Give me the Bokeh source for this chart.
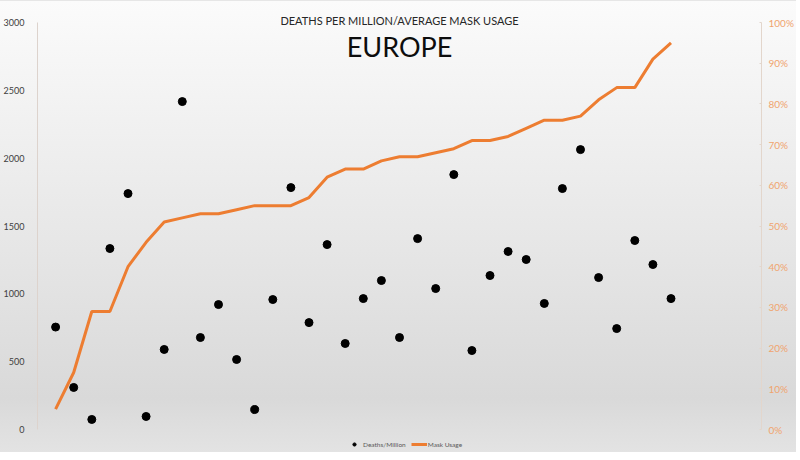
from bokeh.plotting import figure
from bokeh.models import (Range1d, LinearAxis, NumeralTickFormatter, Label,
                          Legend, LegendItem, FixedTicker, ColumnDataSource)
from bokeh.embed import file_html
from bokeh.resources import INLINE

# ---- data ----
countries = list(range(1, 36))
deaths_per_million = [755, 310, 74, 1334, 1739, 96, 590, 2417, 678, 921,
                      516, 147, 958, 1783, 788, 1363, 634, 965, 1098, 678,
                      1407, 1039, 1879, 582, 1135, 1312, 1253, 929, 1776, 2063,
                      1120, 744, 1393, 1216, 965]
mask_usage = [0.05, 0.14, 0.29, 0.29, 0.40, 0.46, 0.51, 0.52, 0.53, 0.53,
              0.54, 0.55, 0.55, 0.55, 0.57, 0.62, 0.64, 0.64, 0.66, 0.67,
              0.67, 0.68, 0.69, 0.71, 0.71, 0.72, 0.74, 0.76, 0.76, 0.77,
              0.81, 0.84, 0.84, 0.91, 0.95]
left_ticks = [0, 500, 1000, 1500, 2000, 2500, 3000]
right_ticks = [0, 0.1, 0.2, 0.3, 0.4, 0.5, 0.6, 0.7, 0.8, 0.9, 1.0]

src = ColumnDataSource(dict(x=countries, d=deaths_per_million, m=mask_usage))

FONT = "Lato"
W, H = 796, 452
TOP, BOTTOM = 4, 4
# pixel rows (figure coords) where the axis limits 0 and 3000 sit
Y0_PX, YMAX_PX = 428, 21
px_per = (Y0_PX - YMAX_PX) / 3000.0
y_hi = 3000 + (YMAX_PX - TOP) / px_per
y_lo = -((H - BOTTOM) - Y0_PX) / px_per

p = figure(width=W, height=H, output_backend="svg", toolbar_location=None,
           x_range=Range1d(0, 40), y_range=Range1d(y_lo, y_hi),
           x_axis_location=None, min_border_left=35, min_border_right=W - 762,
           min_border_top=TOP, min_border_bottom=BOTTOM)
p.styles = {"background-image": "linear-gradient(#fbfbfb 0%, #e8e8e8 50%, #d9d9d9 88%, #e3e3e3 100%)",
            "border-top": "1px solid #e6e6e6"}
p.background_fill_alpha = 0
p.border_fill_alpha = 0
p.outline_line_color = None
p.xgrid.visible = False
p.ygrid.visible = False

# left axis
ya = p.yaxis[0]
ya.ticker = FixedTicker(ticks=left_ticks)
ya.bounds = (0, 3000)
ya.axis_line_color = "#ddd3cd"
ya.major_tick_line_color = None
ya.minor_tick_line_color = None
ya.major_label_text_color = "#404040"
ya.major_label_text_font = FONT
ya.major_label_text_font_size = "9px"
ya.major_label_standoff = 7

# right axis
p.extra_y_ranges = {"mask": Range1d(y_lo / 3000.0, y_hi / 3000.0)}
ra = LinearAxis(y_range_name="mask", ticker=FixedTicker(ticks=right_ticks),
                formatter=NumeralTickFormatter(format="0%"), bounds=(0, 1))
ra.axis_line_color = "#e3d6cc"
ra.major_tick_line_color = "#e3d6cc"
ra.major_tick_in = 2
ra.major_tick_out = 0
ra.minor_tick_line_color = None
ra.major_label_text_color = "#f0a46e"
ra.major_label_text_font = FONT
ra.major_label_text_font_size = "10px"
ra.major_label_standoff = 7
p.add_layout(ra, "right")

line_r = p.line("x", "m", source=src, y_range_name="mask",
                line_color="#ed7d31", line_width=3)
dot_r = p.scatter("x", "d", source=src, size=8, fill_color="black",
                  line_color="black")

legend = Legend(items=[LegendItem(label="Deaths/Million", renderers=[dot_r]),
                       LegendItem(label="Mask Usage", renderers=[line_r])],
                orientation="horizontal", location=(309, 1),
                label_text_font=FONT, label_text_font_size="6.5px",
                label_text_color="#595959", glyph_width=16, glyph_height=8,
                label_standoff=1, spacing=5, padding=1, margin=0,
                background_fill_alpha=0, border_line_color=None,
                label_height=8)
p.add_layout(legend, "center")

p.add_layout(Label(x=20, y=3015, text="DEATHS PER MILLION/AVERAGE MASK USAGE",
                   text_align="center", text_baseline="middle",
                   text_font=FONT, text_font_size="11px", text_color="#262626"))
p.add_layout(Label(x=20, y=2823, text="EUROPE", text_align="center",
                   text_baseline="middle", text_font=FONT,
                   text_font_size="27px", text_color="#0d0d0d"))

open("out.html", "w").write(file_html(p, INLINE))
